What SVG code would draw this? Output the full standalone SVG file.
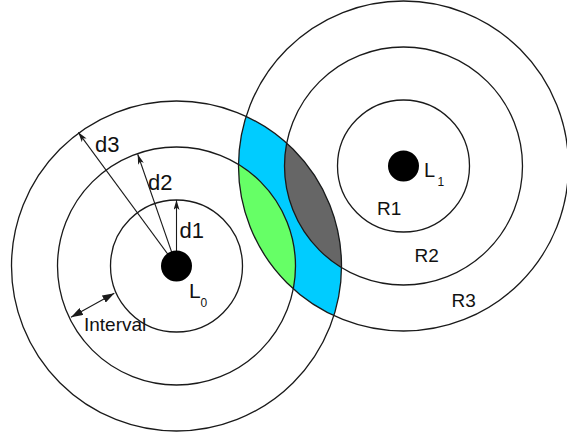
<svg xmlns="http://www.w3.org/2000/svg" width="567" height="440" viewBox="0 0 567 440">
  <style>
    .ring { fill: none; stroke: #1a1a1a; stroke-width: 1.3; }
    .ray { stroke: #1a1a1a; stroke-width: 1.1; fill: none; }
    .lbl { font-family: "Liberation Sans", Arial, sans-serif; fill: #111; }
    .big { font-size: 22px; }
    .mid { font-size: 19px; }
    .sub { font-size: 12px; }
  </style>
  <defs>
    <marker id="tip" viewBox="0 0 10 6" refX="10" refY="3" markerWidth="10" markerHeight="6" markerUnits="userSpaceOnUse" orient="auto">
      <path d="M0,0 L10,3 L0,6 L2.5,3 Z" fill="#1a1a1a"/>
    </marker>
    <marker id="tipBig" viewBox="0 0 12 8" refX="12" refY="4" markerWidth="12" markerHeight="8" markerUnits="userSpaceOnUse" orient="auto-start-reverse">
      <path d="M0,0 L12,4 L0,8 Z" fill="#1a1a1a"/>
    </marker>
    <clipPath id="inL0r3"><circle cx="176.5" cy="266" r="165"/></clipPath>
    <clipPath id="inL1r3"><circle cx="403.5" cy="166" r="165"/></clipPath>
  </defs>

  <rect width="567" height="440" fill="#fff"/>

  <!-- overlap zones between the two ranging stations -->
  <g id="zones">
    <circle cx="403.5" cy="166" r="165" fill="#00ccff" clip-path="url(#inL0r3)"/>
    <circle cx="176.5" cy="266" r="119" fill="#66ff66" clip-path="url(#inL1r3)"/>
    <circle cx="403.5" cy="166" r="119" fill="#666666" clip-path="url(#inL0r3)"/>
  </g>

  <!-- station L0 -->
  <g id="L0">
    <circle class="ring" cx="176.5" cy="266" r="66"/>
    <circle class="ring" cx="176.5" cy="266" r="119"/>
    <circle class="ring" cx="176.5" cy="266" r="165"/>
  </g>

  <!-- station L1 -->
  <g id="L1">
    <circle class="ring" cx="403.5" cy="166" r="66"/>
    <circle class="ring" cx="403.5" cy="166" r="119"/>
    <circle class="ring" cx="403.5" cy="166" r="165"/>
  </g>

  <!-- radius and interval arrows -->
  <g id="connectors">
    <line class="ray" x1="176.5" y1="266" x2="176.5" y2="200" marker-end="url(#tip)"/>
    <line class="ray" x1="176.5" y1="266" x2="137.7" y2="154.3" marker-end="url(#tip)"/>
    <line class="ray" x1="176.5" y1="266" x2="78.3" y2="132.3" marker-end="url(#tip)"/>
    <line class="ray" x1="71" y1="317.3" x2="114.3" y2="293.3" marker-start="url(#tipBig)" marker-end="url(#tipBig)"/>
  </g>

  <g id="dots">
    <circle cx="176.5" cy="266" r="15.5" fill="#000"/>
    <circle cx="403.5" cy="166" r="15.5" fill="#000"/>
  </g>

  <g id="labels">
    <text class="lbl big" x="95" y="152">d3</text>
    <text class="lbl big" x="148" y="189.5">d2</text>
    <text class="lbl big" x="179.5" y="238">d1</text>
    <text class="lbl mid" x="84" y="331" font-size="18">Interval</text>
    <text class="lbl" x="189" y="298" font-size="21">L</text>
    <text class="lbl sub" x="200.5" y="306.5">0</text>
    <text class="lbl" x="424" y="177" font-size="20">L</text>
    <text class="lbl sub" x="437.5" y="185.5">1</text>
    <text class="lbl mid" x="377" y="215">R1</text>
    <text class="lbl mid" x="414.5" y="261.5">R2</text>
    <text class="lbl mid" x="451.5" y="306.5">R3</text>
  </g>
</svg>
